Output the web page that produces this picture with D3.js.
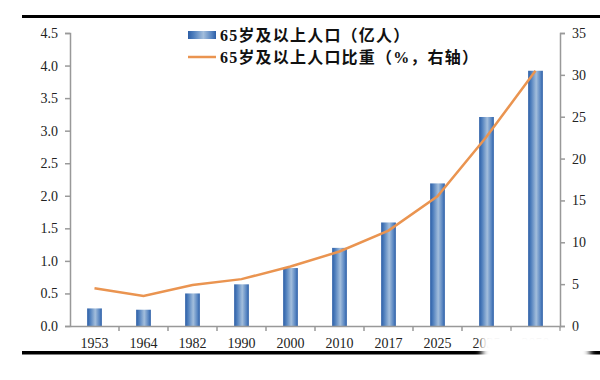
<!DOCTYPE html>
<html>
<head>
<meta charset="utf-8">
<script src="https://cdn.jsdelivr.net/npm/d3@7"></script>
<style>
  body { margin: 0; background: #fff; }
  text { font-family: "Liberation Serif", "Noto Sans CJK SC", serif; }
</style>
</head>
<body>
<svg id="chart" width="600" height="380"></svg>
<script>
var years = ['1953', '1964', '1982', '1990', '2000', '2010', '2017', '2025', '2035', '2050'];
var popValues = [0.27, 0.25, 0.5, 0.64, 0.89, 1.2, 1.59, 2.19, 3.21, 3.92];
var shareValues = [4.5, 3.6, 4.9, 5.6, 7.1, 8.9, 11.4, 15.5, 22.6, 30.5];
var leftTicks = [0, 0.5, 1, 1.5, 2, 2.5, 3, 3.5, 4, 4.5];
var rightTicks = [0, 5, 10, 15, 20, 25, 30, 35];
var legendLabels = ['65岁及以上人口（亿人）', '65岁及以上人口比重（%，右轴）'];

var svg = d3.select('#chart');
var plotLeft = 70, plotRight = 560, plotTop = 33, plotBottom = 326;

var x = d3.scaleBand().domain(years).range([plotLeft, plotRight]).paddingInner(0.7).paddingOuter(0.35);
var xb = d3.scaleBand().domain(years).range([plotLeft, plotRight]);
var yL = d3.scaleLinear().domain([0, 4.5]).range([plotBottom, plotTop]);
var yR = d3.scaleLinear().domain([0, 35]).range([plotBottom, plotTop]);

var defs = svg.append('defs');
var grad = defs.append('linearGradient').attr('id', 'barGrad')
  .attr('x1', '0%').attr('x2', '100%').attr('y1', '0%').attr('y2', '0%');
grad.append('stop').attr('offset', '0%').attr('stop-color', '#2c5ea6');
grad.append('stop').attr('offset', '20%').attr('stop-color', '#4f7fbd');
grad.append('stop').attr('offset', '55%').attr('stop-color', '#a3bedc');
grad.append('stop').attr('offset', '85%').attr('stop-color', '#5583c0');
grad.append('stop').attr('offset', '100%').attr('stop-color', '#2c5ea6');
defs.append('filter').attr('id', 'blur').attr('x', '-20%').attr('y', '-50%').attr('width', '140%').attr('height', '200%')
  .append('feGaussianBlur').attr('stdDeviation', 3);

// frame lines top / bottom
svg.append('rect').attr('x', 22).attr('y', 15).attr('width', 578).attr('height', 3).attr('fill', '#000');
svg.append('rect').attr('x', 22).attr('y', 351).attr('width', 578).attr('height', 3.5).attr('fill', '#000');

// bars
svg.append('g').selectAll('rect').data(years).join('rect')
  .attr('x', function(d) { return x(d); })
  .attr('width', x.bandwidth())
  .attr('y', function(d, i) { return yL(popValues[i]); })
  .attr('height', function(d, i) { return plotBottom - yL(popValues[i]); })
  .attr('fill', 'url(#barGrad)');

// axes
var axisColor = '#999';
var gL = svg.append('g').attr('transform', 'translate(' + plotLeft + ',0)')
  .call(d3.axisLeft(yL).tickValues(leftTicks).tickFormat(d3.format('.1f')).tickSizeOuter(0).tickSize(5));
var gR = svg.append('g').attr('transform', 'translate(' + plotRight + ',0)')
  .call(d3.axisRight(yR).tickValues(rightTicks).tickFormat(d3.format('d')).tickSizeOuter(0).tickSize(5));
var gX = svg.append('g').attr('transform', 'translate(0,' + plotBottom + ')')
  .call(d3.axisBottom(xb).tickSize(0).tickSizeOuter(0));

[gL, gR, gX].forEach(function(g) {
  g.select('.domain').attr('stroke', axisColor).attr('stroke-width', 1.5);
  g.selectAll('.tick line').attr('stroke', axisColor).attr('stroke-width', 1.5);
  g.selectAll('.tick text').attr('fill', '#222').style('font-size', '14px')
    .style('font-family', '"Liberation Serif", serif');
});
gL.selectAll('.tick text').attr('x', -12);
gR.selectAll('.tick text').attr('x', 12);
gX.selectAll('.tick text').attr('dy', '1.35em');

// tick marks between categories on x axis
svg.append('g').selectAll('line').data(years).join('line')
  .attr('x1', function(d) { return xb(d) + xb.bandwidth(); })
  .attr('x2', function(d) { return xb(d) + xb.bandwidth(); })
  .attr('y1', plotBottom).attr('y2', plotBottom + 5)
  .attr('stroke', axisColor).attr('stroke-width', 1.5);

// line series
var line = d3.line()
  .x(function(d, i) { return x(years[i]) + x.bandwidth() / 2; })
  .y(function(d) { return yR(d); });
svg.append('path').datum(shareValues)
  .attr('d', line)
  .attr('fill', 'none')
  .attr('stroke', '#ea9450')
  .attr('stroke-width', 2.5);

// legend
var lg = svg.append('g');
lg.append('rect').attr('x', 188).attr('y', 31).attr('width', 28).attr('height', 8).attr('fill', 'url(#barGrad)');
lg.append('line').attr('x1', 188).attr('x2', 216).attr('y1', 57).attr('y2', 57)
  .attr('stroke', '#ea9450').attr('stroke-width', 2.5);
lg.selectAll('text').data(legendLabels).join('text')
  .attr('x', 220)
  .attr('y', function(d, i) { return 41 + i * 22; })
  .style('font-size', '16px')
  .style('font-weight', 'bold')
  .style('letter-spacing', '1.2px')
  .attr('fill', '#111')
  .text(function(d) { return d; });

// watermark smudge over the last labels
svg.append('rect').attr('x', 482).attr('y', 333).attr('width', 108).attr('height', 30)
  .attr('fill', '#fff').attr('filter', 'url(#blur)');
</script>
</body>
</html>
